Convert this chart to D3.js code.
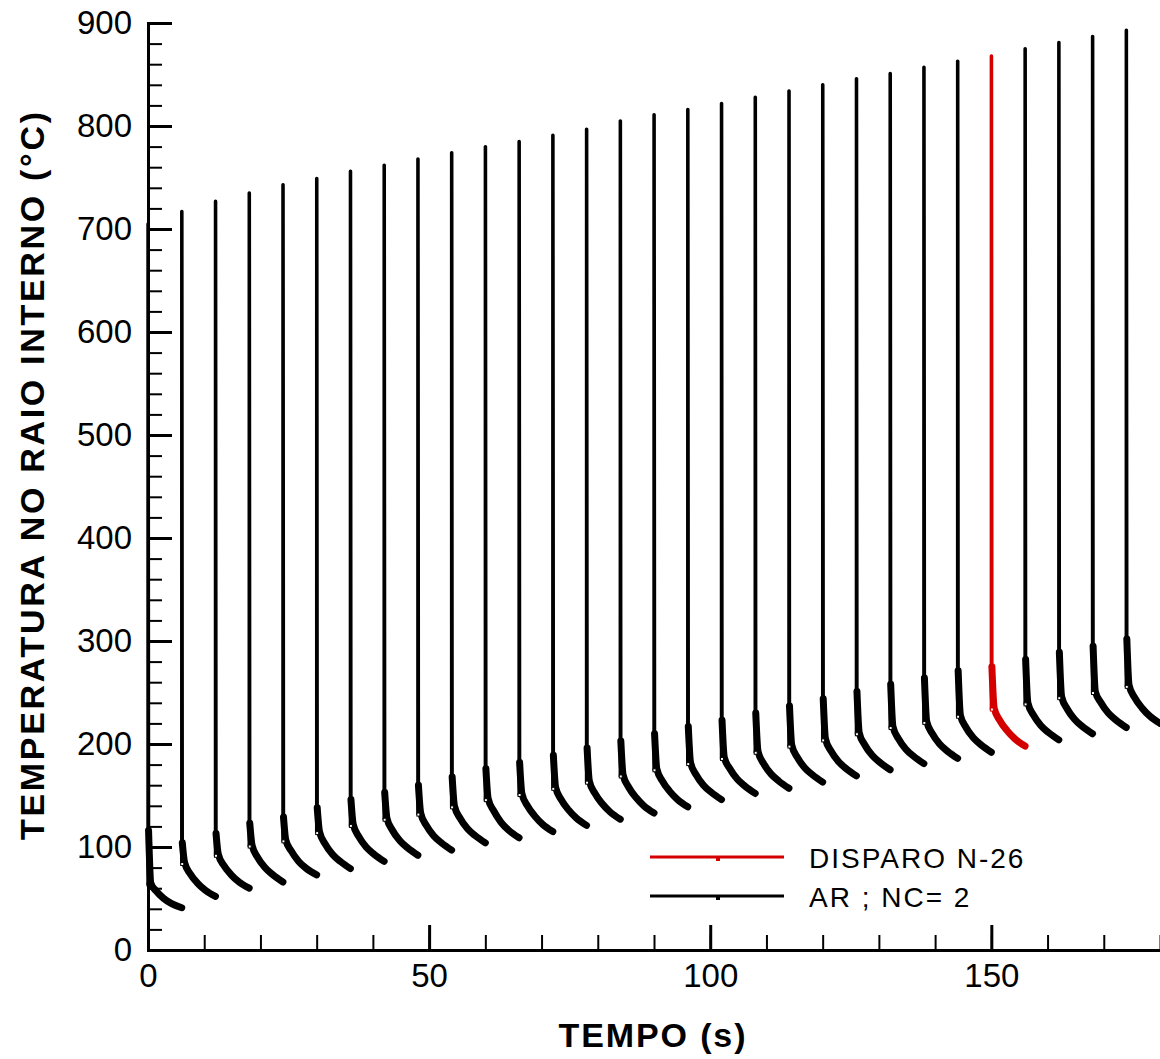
<!DOCTYPE html>
<html lang="pt">
<head>
<meta charset="UTF-8">
<title>Temperatura no raio interno</title>
<style>
  html, body { margin: 0; padding: 0; background: #fff; }
  svg { display: block; font-family: "Liberation Sans", Arial, sans-serif; }
  .axis path, .axis line { stroke: #000; }
  .axis path { stroke-width: 3; stroke-linecap: square; }
  .axis text { font-size: 33px; fill: #000; }
  .major line { stroke-width: 3; }
  .minor line { stroke-width: 2; }
  .title { font-size: 34px; font-weight: bold; fill: #000; }
  .legend text { font-size: 28px; fill: #000; letter-spacing: 2px; }
</style>
<script src="https://cdn.jsdelivr.net/npm/d3@7"></script>
</head>
<body>
<script>
  // ciclos de disparo (inicio de cada ciclo, s)
  const cycleStart = [0, 6, 12, 18, 24, 30, 36, 42, 48, 54, 60, 66, 72, 78, 84,
    90, 96, 102, 108, 114, 120, 126, 132, 138, 144, 150, 156, 162, 168, 174];
  // temperatura de pico de cada disparo
  const peakT = [705, 717, 727, 735, 743, 749, 756, 762, 768, 774, 780, 785, 791, 797, 805,
    811, 816, 822, 828, 834, 840, 846, 851, 857, 863, 868, 875, 881, 887, 893];
  // temperatura no inicio do ciclo (joelho)
  const startT = [63, 83, 91, 100, 105, 113, 120, 126, 131, 138, 145, 150, 156, 162, 168,
    174, 180, 185, 191, 197, 203, 209, 215, 220, 226, 233, 238, 244, 249, 255];
  // pontos do resfriamento: tempo relativo ao disparo e valores lidos
  const decayDt = [0.1, 0.5, 1.5, 2.8, 4.2, 6];
  const decayT = [
    [116, 65, 57, 50, 45, 41],
    [104, 85, 74, 65, 58, 52],
    [113, 93, 82, 73, 66, 60],
    [123, 102, 90, 80, 73, 66],
    [129, 107, 96, 86, 79, 73],
    [138, 115, 103, 93, 86, 79],
    [146, 122, 110, 100, 93, 86],
    [153, 128, 116, 106, 99, 92],
    [160, 133, 121, 111, 104, 97],
    [168, 140, 128, 118, 111, 104],
    [176, 147, 135, 124, 116, 109],
    [182, 152, 140, 130, 122, 115],
    [189, 158, 146, 136, 128, 121],
    [196, 164, 152, 142, 134, 127],
    [203, 170, 158, 148, 140, 133],
    [210, 176, 164, 154, 146, 139],
    [217, 182, 170, 160, 153, 146],
    [223, 187, 176, 166, 159, 152],
    [230, 193, 181, 171, 164, 157],
    [237, 199, 187, 177, 170, 163],
    [244, 205, 193, 183, 176, 169],
    [251, 211, 199, 189, 182, 175],
    [258, 217, 205, 195, 188, 181],
    [264, 222, 210, 200, 193, 186],
    [271, 228, 216, 206, 199, 192],
    [275, 235, 223, 213, 205, 198],
    [282, 240, 228, 218, 211, 204],
    [289, 246, 234, 224, 217, 210],
    [295, 251, 240, 230, 223, 216],
    [302, 257, 245, 235, 227, 220]
  ];
  const highlighted = 25; // DISPARO N-26
  const legendLabels = ['DISPARO N-26', 'AR ; NC= 2'];
  const xMajor = [0, 50, 100, 150];
  const yMajor = [0, 100, 200, 300, 400, 500, 600, 700, 800, 900];

  const width = 1160;
  const height = 1059;
  const padLeft = 148;
  const padTop = 23;
  const axisY = 950;

  const x = d3.scaleLinear().domain([0, 180]).range([padLeft, width]);
  const y = d3.scaleLinear().domain([0, 900]).range([axisY, padTop]);

  const svg = d3.select('body').append('svg')
    .attr('width', width)
    .attr('height', height);

  // curvas
  const thin = d3.line().x(d => x(d[0])).y(d => y(d[1]));
  const thick = d3.line().x(d => x(d[0])).y(d => y(d[1])).curve(d3.curveMonotoneX);

  const cycles = cycleStart.map((t0, i) => ({
    i: i,
    t0: t0,
    rise: [[t0, startT[i]], [t0, peakT[i]], [t0 + 0.03, peakT[i]], [t0 + decayDt[0], decayT[i][0]]],
    decay: decayDt.map((dt, k) => [t0 + dt, decayT[i][k]])
  }));
  // o disparo destacado por cima
  cycles.push(cycles.splice(highlighted, 1)[0]);

  const g = svg.append('g').selectAll('.cycle')
    .data(cycles)
    .enter()
    .append('g')
    .attr('class', 'cycle')
    .attr('stroke', d => d.i === highlighted ? '#d40000' : '#000')
    .attr('fill', 'none');

  g.append('path')
    .attr('d', d => thin(d.rise))
    .attr('stroke-width', 3.4)
    .attr('stroke-linejoin', 'round');

  g.append('path')
    .attr('d', d => thick(d.decay))
    .attr('stroke-width', 7)
    .attr('stroke-linecap', 'round');

  g.append('rect')
    .attr('x', d => x(d.t0) - 1)
    .attr('y', d => y(startT[d.i]) - 2)
    .attr('width', 3)
    .attr('height', 3)
    .attr('fill', '#fff')
    .attr('stroke-width', 1);

  // eixos
  svg.append('g')
    .attr('class', 'axis minor')
    .attr('transform', `translate(0,${axisY})`)
    .call(d3.axisBottom(x).tickValues(d3.range(0, 181, 10)).tickSizeInner(-15).tickSizeOuter(0).tickFormat(''));
  svg.append('g')
    .attr('class', 'axis major')
    .attr('transform', `translate(0,${axisY})`)
    .call(d3.axisBottom(x).tickValues(xMajor).tickSizeInner(-25).tickSizeOuter(0).tickPadding(14).tickFormat(d3.format('d')));

  svg.append('g')
    .attr('class', 'axis minor')
    .attr('transform', `translate(${padLeft},0)`)
    .call(d3.axisLeft(y).tickValues(d3.range(0, 901, 20)).tickSizeInner(-14).tickSizeOuter(0).tickFormat(''));
  svg.append('g')
    .attr('class', 'axis major')
    .attr('transform', `translate(${padLeft},0)`)
    .call(d3.axisLeft(y).tickValues(yMajor).tickSizeInner(-24).tickSizeOuter(0).tickPadding(16).tickFormat(d3.format('d')));

  // titulos
  svg.append('text')
    .attr('class', 'title')
    .attr('text-anchor', 'middle')
    .attr('x', 652)
    .attr('y', 1047)
    .attr('textLength', 187)
    .attr('lengthAdjust', 'spacing')
    .text('TEMPO (s)');

  svg.append('text')
    .attr('class', 'title')
    .attr('text-anchor', 'middle')
    .attr('transform', 'translate(44,476) rotate(-90)')
    .attr('textLength', 728)
    .attr('lengthAdjust', 'spacing')
    .text('TEMPERATURA NO RAIO INTERNO (°C)');

  // legenda
  const legend = svg.append('g').attr('class', 'legend');
  const legendColors = ['#d40000', '#000'];
  const legendY = [857, 896];
  legendLabels.forEach((label, i) => {
    legend.append('line')
      .attr('x1', 650).attr('x2', 784)
      .attr('y1', legendY[i]).attr('y2', legendY[i])
      .attr('stroke', legendColors[i])
      .attr('stroke-width', 3);
    legend.append('rect')
      .attr('x', 716).attr('y', legendY[i])
      .attr('width', 4).attr('height', 4)
      .attr('fill', legendColors[i]);
    legend.append('text')
      .attr('x', 809)
      .attr('y', legendY[i] + 11)
      .text(label);
  });
</script>
</body>
</html>
